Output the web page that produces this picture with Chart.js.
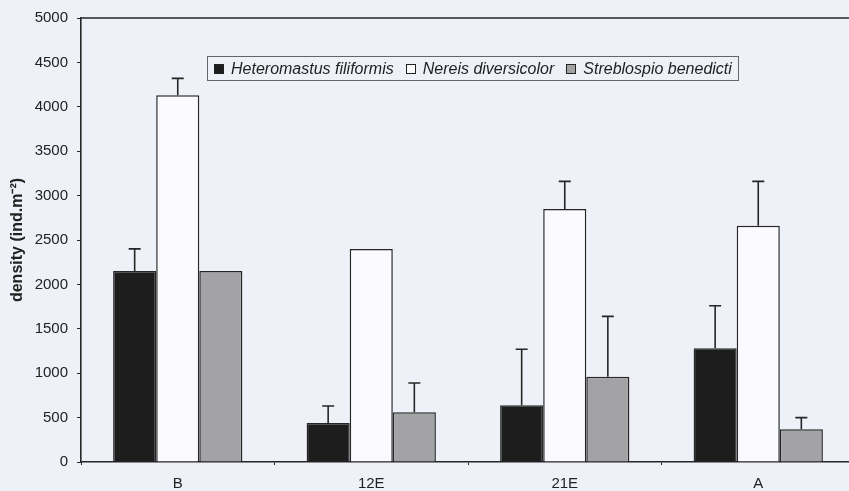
<!DOCTYPE html>
<html>
<head>
<meta charset="utf-8">
<script src="https://cdn.jsdelivr.net/npm/chart.js@4.4.1/dist/chart.umd.min.js"></script>
<style>
  html, body { margin: 0; padding: 0; background: #eff1f8; overflow: hidden; }
  #wrap { position: relative; width: 849px; height: 491px; overflow: hidden; }
  #grafico { position: absolute; left: 0; top: 0; }
  #legenda {
    position: absolute; left: 207px; top: 56px; width: 532px; height: 25px;
    border: 1px solid #666; box-sizing: border-box;
    display: flex; align-items: center; padding-left: 6px; white-space: nowrap;
    font: italic 16px "Liberation Sans", Arial, sans-serif; color: #222;
  }
  #legenda span.item { display: flex; align-items: center; margin-right: 12px; flex-shrink: 0; white-space: nowrap; }
  #legenda span.cx { width: 10px; height: 10px; border: 1px solid #222; margin-right: 7px; box-sizing: border-box; flex-shrink: 0; }
</style>
</head>
<body>
<div id="wrap">
  <canvas id="grafico" width="856" height="491"></canvas>
  <div id="legenda"></div>
</div>
<script>
const categorias = ["B", "12E", "21E", "A"];

const heteromastus = [2150, 440, 640, 1280];
const heteromastusErro = [250, 190, 630, 480];

const nereis = [4130, 2400, 2850, 2660];
const nereisErro = [190, 0, 310, 500];

const streblospio = [2150, 560, 960, 370];
const streblospioErro = [0, 330, 680, 130];

const marcasY = [0, 500, 1000, 1500, 2000, 2500, 3000, 3500, 4000, 4500, 5000];

const fonte = '"Liberation Sans", Arial, sans-serif';
const corLinha = "#262626";

// barras de erro (só a metade de cima, com tampa)
const barrasErro = {
  id: "barrasErro",
  afterDatasetsDraw(chart) {
    const c = chart.ctx;
    const y = chart.scales.y;
    chart.data.datasets.forEach((ds, i) => {
      const meta = chart.getDatasetMeta(i);
      meta.data.forEach((barra, j) => {
        const e = ds.erros[j];
        if (!e) return;
        const yTopo = y.getPixelForValue(ds.data[j] + e);
        c.save();
        c.strokeStyle = corLinha;
        c.lineWidth = 1.6;
        c.beginPath();
        c.moveTo(barra.x, barra.y);
        c.lineTo(barra.x, yTopo);
        c.moveTo(barra.x - 6, yTopo);
        c.lineTo(barra.x + 6, yTopo);
        c.stroke();
        c.restore();
      });
    });
  }
};

// linha de cima da área do gráfico
const bordaTopo = {
  id: "bordaTopo",
  afterDraw(chart) {
    const a = chart.chartArea;
    const c = chart.ctx;
    c.save();
    c.strokeStyle = corLinha;
    c.lineWidth = 1.6;
    c.beginPath();
    c.moveTo(a.left, a.top);
    c.lineTo(a.right + 2, a.top);
    c.stroke();
    c.restore();
  }
};

const series = [
  { label: "Heteromastus filiformis", data: heteromastus, erros: heteromastusErro, cor: "#1d1d1d" },
  { label: "Nereis diversicolor", data: nereis, erros: nereisErro, cor: "#fbfbfd" },
  { label: "Streblospio benedicti", data: streblospio, erros: streblospioErro, cor: "#a3a3a5" }
];

const ctx = document.getElementById("grafico").getContext("2d");

const grafico = new Chart(ctx, {
  type: "bar",
  data: {
    labels: categorias,
    datasets: series.map(s => ({
      label: s.label,
      data: s.data,
      erros: s.erros,
      backgroundColor: s.cor,
      borderColor: corLinha,
      borderWidth: 1.5,
      categoryPercentage: 0.668,
      barPercentage: 1.0
    }))
  },
  options: {
    responsive: false,
    animation: false,
    layout: { padding: { top: 18, right: 1, left: 0, bottom: 0 } },
    plugins: {
      legend: { display: false },
      tooltip: { enabled: false }
    },
    scales: {
      x: {
        afterFit(s) { s.height = 29; },
        grid: { drawOnChartArea: false, drawTicks: true, tickLength: 3, color: corLinha, offset: true },
        border: { display: true, color: corLinha, width: 1.6 },
        ticks: { color: "#222", font: { family: fonte, size: 15 }, padding: 10 }
      },
      y: {
        min: 0,
        max: 5000,
        afterFit(s) { s.width = 81; },
        afterBuildTicks(s) { s.ticks = marcasY.map(v => ({ value: v })); },
        grid: { drawOnChartArea: false, drawTicks: true, tickLength: 4, color: corLinha },
        border: { display: true, color: corLinha, width: 1.6 },
        ticks: { color: "#222", font: { family: fonte, size: 15 }, padding: 9, callback: v => String(v) },
        title: {
          display: true,
          text: "density (ind.m⁻²)",
          color: "#222",
          font: { family: fonte, size: 16, weight: "bold" },
          padding: { top: 8, bottom: 0 }
        }
      }
    }
  },
  plugins: [barrasErro, bordaTopo]
});

// legenda dentro da área
const legenda = document.getElementById("legenda");
series.forEach(s => {
  const item = document.createElement("span");
  item.className = "item";
  item.innerHTML = `<span class="cx" style="background:${s.cor}"></span>${s.label}`;
  legenda.appendChild(item);
});
</script>
</body>
</html>
